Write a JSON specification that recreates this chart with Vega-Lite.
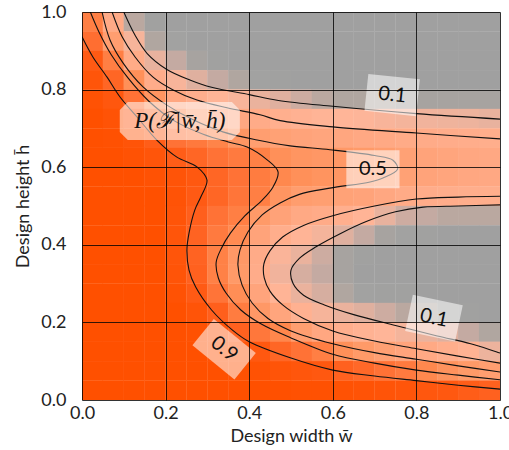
{
"$schema":"https://vega.github.io/schema/vega-lite/v6.json",
"width":418,"height":388,
"autosize":{"type":"none"},
"padding":{"left":82,"top":12,"right":9,"bottom":50},
"config":{"view":{"stroke":null},"font":"Lato"},
"datasets":{
"grid":[
{"w":0.025,"h":0.975,"p":0.72},{"w":0.025,"h":0.925,"p":0.82},{"w":0.025,"h":0.875,"p":0.91},{"w":0.025,"h":0.825,"p":0.95},{"w":0.025,"h":0.775,"p":0.98},{"w":0.025,"h":0.725,"p":1},{"w":0.025,"h":0.675,"p":1},{"w":0.025,"h":0.625,"p":1},{"w":0.025,"h":0.575,"p":1},{"w":0.025,"h":0.525,"p":1},{"w":0.025,"h":0.475,"p":1},{"w":0.025,"h":0.425,"p":1},{"w":0.025,"h":0.375,"p":1},{"w":0.025,"h":0.325,"p":1},{"w":0.025,"h":0.275,"p":1},{"w":0.025,"h":0.225,"p":1},{"w":0.025,"h":0.175,"p":1},{"w":0.025,"h":0.125,"p":1},{"w":0.025,"h":0.075,"p":1},{"w":0.025,"h":0.025,"p":1},
{"w":0.075,"h":0.975,"p":0.35},{"w":0.075,"h":0.925,"p":0.48},{"w":0.075,"h":0.875,"p":0.72},{"w":0.075,"h":0.825,"p":0.86},{"w":0.075,"h":0.775,"p":0.93},{"w":0.075,"h":0.725,"p":0.97},{"w":0.075,"h":0.675,"p":0.99},{"w":0.075,"h":0.625,"p":1},{"w":0.075,"h":0.575,"p":1},{"w":0.075,"h":0.525,"p":1},{"w":0.075,"h":0.475,"p":1},{"w":0.075,"h":0.425,"p":1},{"w":0.075,"h":0.375,"p":1},{"w":0.075,"h":0.325,"p":1},{"w":0.075,"h":0.275,"p":1},{"w":0.075,"h":0.225,"p":1},{"w":0.075,"h":0.175,"p":1},{"w":0.075,"h":0.125,"p":1},{"w":0.075,"h":0.075,"p":1},{"w":0.075,"h":0.025,"p":1},
{"w":0.125,"h":0.975,"p":0.05},{"w":0.125,"h":0.925,"p":0.16},{"w":0.125,"h":0.875,"p":0.34},{"w":0.125,"h":0.825,"p":0.6},{"w":0.125,"h":0.775,"p":0.8},{"w":0.125,"h":0.725,"p":0.91},{"w":0.125,"h":0.675,"p":0.96},{"w":0.125,"h":0.625,"p":0.98},{"w":0.125,"h":0.575,"p":1},{"w":0.125,"h":0.525,"p":1},{"w":0.125,"h":0.475,"p":1},{"w":0.125,"h":0.425,"p":1},{"w":0.125,"h":0.375,"p":1},{"w":0.125,"h":0.325,"p":1},{"w":0.125,"h":0.275,"p":1},{"w":0.125,"h":0.225,"p":1},{"w":0.125,"h":0.175,"p":1},{"w":0.125,"h":0.125,"p":1},{"w":0.125,"h":0.075,"p":1},{"w":0.125,"h":0.025,"p":1},
{"w":0.175,"h":0.975,"p":0.01},{"w":0.175,"h":0.925,"p":0.04},{"w":0.175,"h":0.875,"p":0.1},{"w":0.175,"h":0.825,"p":0.32},{"w":0.175,"h":0.775,"p":0.56},{"w":0.175,"h":0.725,"p":0.78},{"w":0.175,"h":0.675,"p":0.9},{"w":0.175,"h":0.625,"p":0.95},{"w":0.175,"h":0.575,"p":0.98},{"w":0.175,"h":0.525,"p":1},{"w":0.175,"h":0.475,"p":1},{"w":0.175,"h":0.425,"p":1},{"w":0.175,"h":0.375,"p":1},{"w":0.175,"h":0.325,"p":1},{"w":0.175,"h":0.275,"p":1},{"w":0.175,"h":0.225,"p":1},{"w":0.175,"h":0.175,"p":1},{"w":0.175,"h":0.125,"p":1},{"w":0.175,"h":0.075,"p":1},{"w":0.175,"h":0.025,"p":1},
{"w":0.225,"h":0.975,"p":0},{"w":0.225,"h":0.925,"p":0.02},{"w":0.225,"h":0.875,"p":0.06},{"w":0.225,"h":0.825,"p":0.17},{"w":0.225,"h":0.775,"p":0.38},{"w":0.225,"h":0.725,"p":0.64},{"w":0.225,"h":0.675,"p":0.8},{"w":0.225,"h":0.625,"p":0.9},{"w":0.225,"h":0.575,"p":0.96},{"w":0.225,"h":0.525,"p":0.97},{"w":0.225,"h":0.475,"p":0.96},{"w":0.225,"h":0.425,"p":0.95},{"w":0.225,"h":0.375,"p":0.95},{"w":0.225,"h":0.325,"p":0.96},{"w":0.225,"h":0.275,"p":0.98},{"w":0.225,"h":0.225,"p":1},{"w":0.225,"h":0.175,"p":1},{"w":0.225,"h":0.125,"p":1},{"w":0.225,"h":0.075,"p":1},{"w":0.225,"h":0.025,"p":1},
{"w":0.275,"h":0.975,"p":0},{"w":0.275,"h":0.925,"p":0},{"w":0.275,"h":0.875,"p":0.03},{"w":0.275,"h":0.825,"p":0.09},{"w":0.275,"h":0.775,"p":0.29},{"w":0.275,"h":0.725,"p":0.47},{"w":0.275,"h":0.675,"p":0.76},{"w":0.275,"h":0.625,"p":0.86},{"w":0.275,"h":0.575,"p":0.92},{"w":0.275,"h":0.525,"p":0.91},{"w":0.275,"h":0.475,"p":0.89},{"w":0.275,"h":0.425,"p":0.87},{"w":0.275,"h":0.375,"p":0.87},{"w":0.275,"h":0.325,"p":0.88},{"w":0.275,"h":0.275,"p":0.91},{"w":0.275,"h":0.225,"p":0.96},{"w":0.275,"h":0.175,"p":0.99},{"w":0.275,"h":0.125,"p":1},{"w":0.275,"h":0.075,"p":1},{"w":0.275,"h":0.025,"p":1},
{"w":0.325,"h":0.975,"p":0},{"w":0.325,"h":0.925,"p":0},{"w":0.325,"h":0.875,"p":0.01},{"w":0.325,"h":0.825,"p":0.06},{"w":0.325,"h":0.775,"p":0.22},{"w":0.325,"h":0.725,"p":0.42},{"w":0.325,"h":0.675,"p":0.69},{"w":0.325,"h":0.625,"p":0.8},{"w":0.325,"h":0.575,"p":0.86},{"w":0.325,"h":0.525,"p":0.86},{"w":0.325,"h":0.475,"p":0.8},{"w":0.325,"h":0.425,"p":0.75},{"w":0.325,"h":0.375,"p":0.71},{"w":0.325,"h":0.325,"p":0.71},{"w":0.325,"h":0.275,"p":0.79},{"w":0.325,"h":0.225,"p":0.89},{"w":0.325,"h":0.175,"p":0.95},{"w":0.325,"h":0.125,"p":0.98},{"w":0.325,"h":0.075,"p":1},{"w":0.325,"h":0.025,"p":1},
{"w":0.375,"h":0.975,"p":0},{"w":0.375,"h":0.925,"p":0},{"w":0.375,"h":0.875,"p":0},{"w":0.375,"h":0.825,"p":0.04},{"w":0.375,"h":0.775,"p":0.17},{"w":0.375,"h":0.725,"p":0.38},{"w":0.375,"h":0.675,"p":0.55},{"w":0.375,"h":0.625,"p":0.75},{"w":0.375,"h":0.575,"p":0.8},{"w":0.375,"h":0.525,"p":0.78},{"w":0.375,"h":0.475,"p":0.72},{"w":0.375,"h":0.425,"p":0.64},{"w":0.375,"h":0.375,"p":0.53},{"w":0.375,"h":0.325,"p":0.52},{"w":0.375,"h":0.275,"p":0.62},{"w":0.375,"h":0.225,"p":0.74},{"w":0.375,"h":0.175,"p":0.88},{"w":0.375,"h":0.125,"p":0.96},{"w":0.375,"h":0.075,"p":0.99},{"w":0.375,"h":0.025,"p":1},
{"w":0.425,"h":0.975,"p":0},{"w":0.425,"h":0.925,"p":0},{"w":0.425,"h":0.875,"p":0},{"w":0.425,"h":0.825,"p":0.02},{"w":0.425,"h":0.775,"p":0.11},{"w":0.425,"h":0.725,"p":0.33},{"w":0.425,"h":0.675,"p":0.48},{"w":0.425,"h":0.625,"p":0.71},{"w":0.425,"h":0.575,"p":0.74},{"w":0.425,"h":0.525,"p":0.72},{"w":0.425,"h":0.475,"p":0.52},{"w":0.425,"h":0.425,"p":0.42},{"w":0.425,"h":0.375,"p":0.33},{"w":0.425,"h":0.325,"p":0.32},{"w":0.425,"h":0.275,"p":0.41},{"w":0.425,"h":0.225,"p":0.53},{"w":0.425,"h":0.175,"p":0.77},{"w":0.425,"h":0.125,"p":0.92},{"w":0.425,"h":0.075,"p":0.98},{"w":0.425,"h":0.025,"p":1},
{"w":0.475,"h":0.975,"p":0},{"w":0.475,"h":0.925,"p":0},{"w":0.475,"h":0.875,"p":0},{"w":0.475,"h":0.825,"p":0.01},{"w":0.475,"h":0.775,"p":0.09},{"w":0.475,"h":0.725,"p":0.28},{"w":0.475,"h":0.675,"p":0.45},{"w":0.475,"h":0.625,"p":0.6},{"w":0.475,"h":0.575,"p":0.66},{"w":0.475,"h":0.525,"p":0.56},{"w":0.475,"h":0.475,"p":0.43},{"w":0.475,"h":0.425,"p":0.3},{"w":0.475,"h":0.375,"p":0.18},{"w":0.475,"h":0.325,"p":0.14},{"w":0.475,"h":0.275,"p":0.22},{"w":0.475,"h":0.225,"p":0.4},{"w":0.475,"h":0.175,"p":0.67},{"w":0.475,"h":0.125,"p":0.86},{"w":0.475,"h":0.075,"p":0.96},{"w":0.475,"h":0.025,"p":1},
{"w":0.525,"h":0.975,"p":0},{"w":0.525,"h":0.925,"p":0},{"w":0.525,"h":0.875,"p":0},{"w":0.525,"h":0.825,"p":0},{"w":0.525,"h":0.775,"p":0.07},{"w":0.525,"h":0.725,"p":0.25},{"w":0.525,"h":0.675,"p":0.42},{"w":0.525,"h":0.625,"p":0.56},{"w":0.525,"h":0.575,"p":0.6},{"w":0.525,"h":0.525,"p":0.49},{"w":0.525,"h":0.475,"p":0.36},{"w":0.525,"h":0.425,"p":0.22},{"w":0.525,"h":0.375,"p":0.11},{"w":0.525,"h":0.325,"p":0.08},{"w":0.525,"h":0.275,"p":0.11},{"w":0.525,"h":0.225,"p":0.26},{"w":0.525,"h":0.175,"p":0.48},{"w":0.525,"h":0.125,"p":0.8},{"w":0.525,"h":0.075,"p":0.94},{"w":0.525,"h":0.025,"p":0.99},
{"w":0.575,"h":0.975,"p":0},{"w":0.575,"h":0.925,"p":0},{"w":0.575,"h":0.875,"p":0},{"w":0.575,"h":0.825,"p":0},{"w":0.575,"h":0.775,"p":0.05},{"w":0.575,"h":0.725,"p":0.22},{"w":0.575,"h":0.675,"p":0.4},{"w":0.575,"h":0.625,"p":0.54},{"w":0.575,"h":0.575,"p":0.57},{"w":0.575,"h":0.525,"p":0.47},{"w":0.575,"h":0.475,"p":0.33},{"w":0.575,"h":0.425,"p":0.15},{"w":0.575,"h":0.375,"p":0.07},{"w":0.575,"h":0.325,"p":0.06},{"w":0.575,"h":0.275,"p":0.08},{"w":0.575,"h":0.225,"p":0.16},{"w":0.575,"h":0.175,"p":0.38},{"w":0.575,"h":0.125,"p":0.72},{"w":0.575,"h":0.075,"p":0.92},{"w":0.575,"h":0.025,"p":0.99},
{"w":0.625,"h":0.975,"p":0},{"w":0.625,"h":0.925,"p":0},{"w":0.625,"h":0.875,"p":0},{"w":0.625,"h":0.825,"p":0},{"w":0.625,"h":0.775,"p":0.04},{"w":0.625,"h":0.725,"p":0.2},{"w":0.625,"h":0.675,"p":0.39},{"w":0.625,"h":0.625,"p":0.53},{"w":0.625,"h":0.575,"p":0.55},{"w":0.625,"h":0.525,"p":0.44},{"w":0.625,"h":0.475,"p":0.28},{"w":0.625,"h":0.425,"p":0.09},{"w":0.625,"h":0.375,"p":0.03},{"w":0.625,"h":0.325,"p":0.03},{"w":0.625,"h":0.275,"p":0.04},{"w":0.625,"h":0.225,"p":0.11},{"w":0.625,"h":0.175,"p":0.29},{"w":0.625,"h":0.125,"p":0.6},{"w":0.625,"h":0.075,"p":0.88},{"w":0.625,"h":0.025,"p":0.98},
{"w":0.675,"h":0.975,"p":0},{"w":0.675,"h":0.925,"p":0},{"w":0.675,"h":0.875,"p":0},{"w":0.675,"h":0.825,"p":0},{"w":0.675,"h":0.775,"p":0.04},{"w":0.675,"h":0.725,"p":0.19},{"w":0.675,"h":0.675,"p":0.37},{"w":0.675,"h":0.625,"p":0.52},{"w":0.675,"h":0.575,"p":0.53},{"w":0.675,"h":0.525,"p":0.42},{"w":0.675,"h":0.475,"p":0.22},{"w":0.675,"h":0.425,"p":0.06},{"w":0.675,"h":0.375,"p":0.01},{"w":0.675,"h":0.325,"p":0},{"w":0.675,"h":0.275,"p":0.02},{"w":0.675,"h":0.225,"p":0.09},{"w":0.675,"h":0.175,"p":0.24},{"w":0.675,"h":0.125,"p":0.52},{"w":0.675,"h":0.075,"p":0.85},{"w":0.675,"h":0.025,"p":0.97},
{"w":0.725,"h":0.975,"p":0},{"w":0.725,"h":0.925,"p":0},{"w":0.725,"h":0.875,"p":0},{"w":0.725,"h":0.825,"p":0},{"w":0.725,"h":0.775,"p":0.04},{"w":0.725,"h":0.725,"p":0.17},{"w":0.725,"h":0.675,"p":0.36},{"w":0.725,"h":0.625,"p":0.49},{"w":0.725,"h":0.575,"p":0.5},{"w":0.725,"h":0.525,"p":0.38},{"w":0.725,"h":0.475,"p":0.1},{"w":0.725,"h":0.425,"p":0.03},{"w":0.725,"h":0.375,"p":0},{"w":0.725,"h":0.325,"p":0},{"w":0.725,"h":0.275,"p":0.01},{"w":0.725,"h":0.225,"p":0.07},{"w":0.725,"h":0.175,"p":0.2},{"w":0.725,"h":0.125,"p":0.46},{"w":0.725,"h":0.075,"p":0.8},{"w":0.725,"h":0.025,"p":0.96},
{"w":0.775,"h":0.975,"p":0},{"w":0.775,"h":0.925,"p":0},{"w":0.775,"h":0.875,"p":0},{"w":0.775,"h":0.825,"p":0},{"w":0.775,"h":0.775,"p":0.03},{"w":0.775,"h":0.725,"p":0.15},{"w":0.775,"h":0.675,"p":0.34},{"w":0.775,"h":0.625,"p":0.45},{"w":0.775,"h":0.575,"p":0.45},{"w":0.775,"h":0.525,"p":0.34},{"w":0.775,"h":0.475,"p":0.07},{"w":0.775,"h":0.425,"p":0.02},{"w":0.775,"h":0.375,"p":0},{"w":0.775,"h":0.325,"p":0},{"w":0.775,"h":0.275,"p":0.01},{"w":0.775,"h":0.225,"p":0.05},{"w":0.775,"h":0.175,"p":0.15},{"w":0.775,"h":0.125,"p":0.41},{"w":0.775,"h":0.075,"p":0.75},{"w":0.775,"h":0.025,"p":0.95},
{"w":0.825,"h":0.975,"p":0},{"w":0.825,"h":0.925,"p":0},{"w":0.825,"h":0.875,"p":0},{"w":0.825,"h":0.825,"p":0},{"w":0.825,"h":0.775,"p":0.03},{"w":0.825,"h":0.725,"p":0.14},{"w":0.825,"h":0.675,"p":0.33},{"w":0.825,"h":0.625,"p":0.42},{"w":0.825,"h":0.575,"p":0.42},{"w":0.825,"h":0.525,"p":0.32},{"w":0.825,"h":0.475,"p":0.06},{"w":0.825,"h":0.425,"p":0.01},{"w":0.825,"h":0.375,"p":0},{"w":0.825,"h":0.325,"p":0},{"w":0.825,"h":0.275,"p":0},{"w":0.825,"h":0.225,"p":0.04},{"w":0.825,"h":0.175,"p":0.11},{"w":0.825,"h":0.125,"p":0.36},{"w":0.825,"h":0.075,"p":0.66},{"w":0.825,"h":0.025,"p":0.93},
{"w":0.875,"h":0.975,"p":0},{"w":0.875,"h":0.925,"p":0},{"w":0.875,"h":0.875,"p":0},{"w":0.875,"h":0.825,"p":0},{"w":0.875,"h":0.775,"p":0.03},{"w":0.875,"h":0.725,"p":0.13},{"w":0.875,"h":0.675,"p":0.32},{"w":0.875,"h":0.625,"p":0.4},{"w":0.875,"h":0.575,"p":0.4},{"w":0.875,"h":0.525,"p":0.31},{"w":0.875,"h":0.475,"p":0.05},{"w":0.875,"h":0.425,"p":0},{"w":0.875,"h":0.375,"p":0},{"w":0.875,"h":0.325,"p":0},{"w":0.875,"h":0.275,"p":0},{"w":0.875,"h":0.225,"p":0.02},{"w":0.875,"h":0.175,"p":0.09},{"w":0.875,"h":0.125,"p":0.3},{"w":0.875,"h":0.075,"p":0.58},{"w":0.875,"h":0.025,"p":0.92},
{"w":0.925,"h":0.975,"p":0},{"w":0.925,"h":0.925,"p":0},{"w":0.925,"h":0.875,"p":0},{"w":0.925,"h":0.825,"p":0},{"w":0.925,"h":0.775,"p":0.03},{"w":0.925,"h":0.725,"p":0.12},{"w":0.925,"h":0.675,"p":0.31},{"w":0.925,"h":0.625,"p":0.38},{"w":0.925,"h":0.575,"p":0.38},{"w":0.925,"h":0.525,"p":0.3},{"w":0.925,"h":0.475,"p":0.05},{"w":0.925,"h":0.425,"p":0},{"w":0.925,"h":0.375,"p":0},{"w":0.925,"h":0.325,"p":0},{"w":0.925,"h":0.275,"p":0},{"w":0.925,"h":0.225,"p":0.01},{"w":0.925,"h":0.175,"p":0.06},{"w":0.925,"h":0.125,"p":0.24},{"w":0.925,"h":0.075,"p":0.52},{"w":0.925,"h":0.025,"p":0.9},
{"w":0.975,"h":0.975,"p":0},{"w":0.975,"h":0.925,"p":0},{"w":0.975,"h":0.875,"p":0},{"w":0.975,"h":0.825,"p":0},{"w":0.975,"h":0.775,"p":0.03},{"w":0.975,"h":0.725,"p":0.1},{"w":0.975,"h":0.675,"p":0.3},{"w":0.975,"h":0.625,"p":0.37},{"w":0.975,"h":0.575,"p":0.37},{"w":0.975,"h":0.525,"p":0.3},{"w":0.975,"h":0.475,"p":0.05},{"w":0.975,"h":0.425,"p":0},{"w":0.975,"h":0.375,"p":0},{"w":0.975,"h":0.325,"p":0},{"w":0.975,"h":0.275,"p":0},{"w":0.975,"h":0.225,"p":0},{"w":0.975,"h":0.175,"p":0.04},{"w":0.975,"h":0.125,"p":0.12},{"w":0.975,"h":0.075,"p":0.48},{"w":0.975,"h":0.025,"p":0.88}
],
"lines":[
{"s":"A","o":1,"w":0.1,"h":1.0},{"s":"A","o":2,"w":0.127,"h":0.94},{"s":"A","o":3,"w":0.156,"h":0.893},{"s":"A","o":4,"w":0.203,"h":0.852},{"s":"A","o":5,"w":0.258,"h":0.825},{"s":"A","o":6,"w":0.31,"h":0.806},{"s":"A","o":7,"w":0.4,"h":0.787},{"s":"A","o":8,"w":0.47,"h":0.772},{"s":"A","o":9,"w":0.6,"h":0.757},{"s":"A","o":10,"w":0.8,"h":0.738},{"s":"A","o":11,"w":1.0,"h":0.724},
{"s":"B","o":1,"w":0.072,"h":1.0},{"s":"B","o":2,"w":0.096,"h":0.936},{"s":"B","o":3,"w":0.127,"h":0.884},{"s":"B","o":4,"w":0.17,"h":0.832},{"s":"B","o":5,"w":0.218,"h":0.799},{"s":"B","o":6,"w":0.275,"h":0.773},{"s":"B","o":7,"w":0.347,"h":0.753},{"s":"B","o":8,"w":0.426,"h":0.735},{"s":"B","o":9,"w":0.474,"h":0.72},{"s":"B","o":10,"w":0.6,"h":0.704},{"s":"B","o":11,"w":0.8,"h":0.688},{"s":"B","o":12,"w":1.0,"h":0.673},
{"s":"C","o":1,"w":0.048,"h":1.0},{"s":"C","o":2,"w":0.067,"h":0.928},{"s":"C","o":3,"w":0.098,"h":0.869},{"s":"C","o":4,"w":0.146,"h":0.807},{"s":"C","o":5,"w":0.203,"h":0.76},{"s":"C","o":6,"w":0.266,"h":0.722},{"s":"C","o":7,"w":0.337,"h":0.691},{"s":"C","o":8,"w":0.419,"h":0.67},{"s":"C","o":9,"w":0.498,"h":0.655},{"s":"C","o":10,"w":0.593,"h":0.645},{"s":"C","o":11,"w":0.7,"h":0.63},{"s":"C","o":12,"w":0.744,"h":0.618},{"s":"C","o":13,"w":0.755,"h":0.595},{"s":"C","o":14,"w":0.72,"h":0.572},{"s":"C","o":15,"w":0.689,"h":0.562},{"s":"C","o":16,"w":0.593,"h":0.546},{"s":"C","o":17,"w":0.52,"h":0.53},{"s":"C","o":18,"w":0.474,"h":0.508},{"s":"C","o":19,"w":0.431,"h":0.477},{"s":"C","o":20,"w":0.397,"h":0.433},{"s":"C","o":21,"w":0.378,"h":0.387},{"s":"C","o":22,"w":0.373,"h":0.348},{"s":"C","o":23,"w":0.383,"h":0.296},{"s":"C","o":24,"w":0.407,"h":0.25},{"s":"C","o":25,"w":0.445,"h":0.21},{"s":"C","o":26,"w":0.5,"h":0.178},{"s":"C","o":27,"w":0.6,"h":0.145},{"s":"C","o":28,"w":0.7,"h":0.122},{"s":"C","o":29,"w":0.8,"h":0.105},{"s":"C","o":30,"w":0.9,"h":0.088},{"s":"C","o":31,"w":1.0,"h":0.072},
{"s":"D","o":1,"w":1.0,"h":0.525},{"s":"D","o":2,"w":0.9,"h":0.523},{"s":"D","o":3,"w":0.8,"h":0.518},{"s":"D","o":4,"w":0.7,"h":0.5},{"s":"D","o":5,"w":0.6,"h":0.475},{"s":"D","o":6,"w":0.53,"h":0.45},{"s":"D","o":7,"w":0.48,"h":0.42},{"s":"D","o":8,"w":0.45,"h":0.385},{"s":"D","o":9,"w":0.435,"h":0.35},{"s":"D","o":10,"w":0.436,"h":0.315},{"s":"D","o":11,"w":0.45,"h":0.28},{"s":"D","o":12,"w":0.48,"h":0.245},{"s":"D","o":13,"w":0.53,"h":0.21},{"s":"D","o":14,"w":0.6,"h":0.178},{"s":"D","o":15,"w":0.7,"h":0.152},{"s":"D","o":16,"w":0.8,"h":0.132},{"s":"D","o":17,"w":0.9,"h":0.113},{"s":"D","o":18,"w":1.0,"h":0.095},
{"s":"E","o":1,"w":1.0,"h":0.503},{"s":"E","o":2,"w":0.9,"h":0.5},{"s":"E","o":3,"w":0.816,"h":0.497},{"s":"E","o":4,"w":0.75,"h":0.485},{"s":"E","o":5,"w":0.68,"h":0.46},{"s":"E","o":6,"w":0.62,"h":0.43},{"s":"E","o":7,"w":0.56,"h":0.395},{"s":"E","o":8,"w":0.52,"h":0.365},{"s":"E","o":9,"w":0.5,"h":0.335},{"s":"E","o":10,"w":0.505,"h":0.3},{"s":"E","o":11,"w":0.53,"h":0.27},{"s":"E","o":12,"w":0.58,"h":0.245},{"s":"E","o":13,"w":0.65,"h":0.22},{"s":"E","o":14,"w":0.75,"h":0.192},{"s":"E","o":15,"w":0.85,"h":0.165},{"s":"E","o":16,"w":0.93,"h":0.145},{"s":"E","o":17,"w":1.0,"h":0.121},
{"s":"F","o":1,"w":0.02,"h":1.0},{"s":"F","o":2,"w":0.04,"h":0.95},{"s":"F","o":3,"w":0.07,"h":0.89},{"s":"F","o":4,"w":0.11,"h":0.83},{"s":"F","o":5,"w":0.16,"h":0.77},{"s":"F","o":6,"w":0.22,"h":0.72},{"s":"F","o":7,"w":0.29,"h":0.685},{"s":"F","o":8,"w":0.35,"h":0.665},{"s":"F","o":9,"w":0.395,"h":0.652},{"s":"F","o":10,"w":0.443,"h":0.619},{"s":"F","o":11,"w":0.469,"h":0.588},{"s":"F","o":12,"w":0.457,"h":0.549},{"s":"F","o":13,"w":0.431,"h":0.515},{"s":"F","o":14,"w":0.39,"h":0.475},{"s":"F","o":15,"w":0.355,"h":0.43},{"s":"F","o":16,"w":0.333,"h":0.39},{"s":"F","o":17,"w":0.321,"h":0.355},{"s":"F","o":18,"w":0.326,"h":0.315},{"s":"F","o":19,"w":0.345,"h":0.275},{"s":"F","o":20,"w":0.38,"h":0.232},{"s":"F","o":21,"w":0.43,"h":0.195},{"s":"F","o":22,"w":0.5,"h":0.16},{"s":"F","o":23,"w":0.6,"h":0.118},{"s":"F","o":24,"w":0.7,"h":0.095},{"s":"F","o":25,"w":0.8,"h":0.077},{"s":"F","o":26,"w":0.9,"h":0.064},{"s":"F","o":27,"w":1.0,"h":0.052},
{"s":"G","o":1,"w":0.0,"h":0.936},{"s":"G","o":2,"w":0.026,"h":0.884},{"s":"G","o":3,"w":0.06,"h":0.832},{"s":"G","o":4,"w":0.091,"h":0.781},{"s":"G","o":5,"w":0.132,"h":0.729},{"s":"G","o":6,"w":0.179,"h":0.67},{"s":"G","o":7,"w":0.227,"h":0.626},{"s":"G","o":8,"w":0.275,"h":0.601},{"s":"G","o":9,"w":0.299,"h":0.567},{"s":"G","o":10,"w":0.285,"h":0.525},{"s":"G","o":11,"w":0.27,"h":0.49},{"s":"G","o":12,"w":0.256,"h":0.43},{"s":"G","o":13,"w":0.251,"h":0.387},{"s":"G","o":14,"w":0.256,"h":0.335},{"s":"G","o":15,"w":0.272,"h":0.291},{"s":"G","o":16,"w":0.31,"h":0.232},{"s":"G","o":17,"w":0.36,"h":0.18},{"s":"G","o":18,"w":0.4,"h":0.15},{"s":"G","o":19,"w":0.5,"h":0.108},{"s":"G","o":20,"w":0.6,"h":0.077},{"s":"G","o":21,"w":0.7,"h":0.062},{"s":"G","o":22,"w":0.8,"h":0.05},{"s":"G","o":23,"w":0.9,"h":0.038},{"s":"G","o":24,"w":1.0,"h":0.028}
]
},
"encoding":{
"x":{"field":"w","type":"quantitative","scale":{"domain":[0,1],"nice":false,"zero":false},
"axis":{"title":"Design width w\u0304","values":[0,0.2,0.4,0.6,0.8,1],"format":".1f","ticks":false,"domain":false,"labelPadding":4,"labelFont":"Lato","labelFontSize":18,"labelColor":"#222","labelFlush":false,"labelOverlap":false,"titleFont":"Lato","titleFontSize":18,"titleFontWeight":"normal","titleColor":"#222","titlePadding":5,"grid":true,"gridColor":"#000","gridOpacity":0.8,"gridWidth":1,"zindex":1}},
"y":{"field":"h","type":"quantitative","scale":{"domain":[0,1],"nice":false,"zero":false},
"axis":{"title":"Design height h\u0304","values":[0,0.2,0.4,0.6,0.8,1],"format":".1f","ticks":false,"domain":false,"labelPadding":16,"labelFont":"Lato","labelFontSize":18,"labelColor":"#222","labelFlush":false,"labelOverlap":false,"titleFont":"Lato","titleFontSize":18,"titleFontWeight":"normal","titleColor":"#222","titlePadding":8,"grid":true,"gridColor":"#000","gridOpacity":0.8,"gridWidth":1,"zindex":1}}
},
"layer":[
{"data":{"name":"grid"},"mark":{"type":"rect","width":21.2,"height":19.7,"clip":true,"strokeWidth":0},
"encoding":{"color":{"field":"p","type":"quantitative","legend":null,
"scale":{"domain":[0,0.025,0.06,0.1,0.2,0.35,0.5,0.65,0.8,0.92,1],"range":["#a0a0a0","#a3a2a1","#c4aaa2","#e8b29e","#ffb598","#ffaa86","#ff9c6c","#ff8a50","#ff7236","#ff5810","#ff5000"]}}}},
{"data":{"name":"lines"},"mark":{"type":"line","interpolate":"catmull-rom","color":"#111","strokeWidth":1.1,"clip":true},
"encoding":{"detail":{"field":"s"},"order":{"field":"o","type":"quantitative"}}},
{"data":{"values":[{"w":0.742,"h":0.786}]},"mark":{"type":"point","shape":"M-1.4,-1L1.4,-1L1.4,1L-1.4,1Z","size":1369,"angle":6,"filled":true,"color":"#fff","opacity":0.55,"strokeWidth":0}},
{"data":{"values":[{"w":0.742,"h":0.786,"t":"0.1"}]},"mark":{"type":"text","angle":6,"font":"Lato","fontSize":20,"color":"#111","align":"center","baseline":"middle"},"encoding":{"text":{"field":"t"}}},
{"data":{"values":[{"w":0.696,"h":0.595}]},"mark":{"type":"point","shape":"M-1.4,-1L1.4,-1L1.4,1L-1.4,1Z","size":1444,"angle":0,"filled":true,"color":"#fff","opacity":0.55,"strokeWidth":0}},
{"data":{"values":[{"w":0.696,"h":0.595,"t":"0.5"}]},"mark":{"type":"text","angle":0,"font":"Lato","fontSize":20,"color":"#111","align":"center","baseline":"middle"},"encoding":{"text":{"field":"t"}}},
{"data":{"values":[{"w":0.842,"h":0.211}]},"mark":{"type":"point","shape":"M-1.38,-1L1.38,-1L1.38,1L-1.38,1Z","size":1369,"angle":12,"filled":true,"color":"#fff","opacity":0.55,"strokeWidth":0}},
{"data":{"values":[{"w":0.842,"h":0.211,"t":"0.1"}]},"mark":{"type":"text","angle":12,"font":"Lato","fontSize":20,"color":"#111","align":"center","baseline":"middle"},"encoding":{"text":{"field":"t"}}},
{"data":{"values":[{"w":0.34,"h":0.131}]},"mark":{"type":"point","shape":"M-1.59,-1L1.59,-1L1.59,1L-1.59,1Z","size":1156,"angle":39,"filled":true,"color":"#fff","opacity":0.55,"strokeWidth":0}},
{"data":{"values":[{"w":0.34,"h":0.131,"t":"0.9"}]},"mark":{"type":"text","angle":39,"font":"Lato","fontSize":20,"color":"#111","align":"center","baseline":"middle"},"encoding":{"text":{"field":"t"}}},
{"data":{"values":[{"w":0.234,"h":0.719}]},"mark":{"type":"point","shape":"M-2.74,-1L2.74,-1L3.16,-0.58L3.16,0.58L2.74,1L-2.74,1L-3.16,0.58L-3.16,-0.58Z","size":1444,"filled":true,"color":"#fff","opacity":0.55,"strokeWidth":0}},
{"data":{"values":[{"w":0.234,"h":0.719,"t":"P(\u2131|w\u0304, h\u0304)"}]},"mark":{"type":"text","font":"Liberation Serif","fontStyle":"italic","fontSize":23,"color":"#111","align":"center","baseline":"middle"},"encoding":{"text":{"field":"t"}}}
]
}
